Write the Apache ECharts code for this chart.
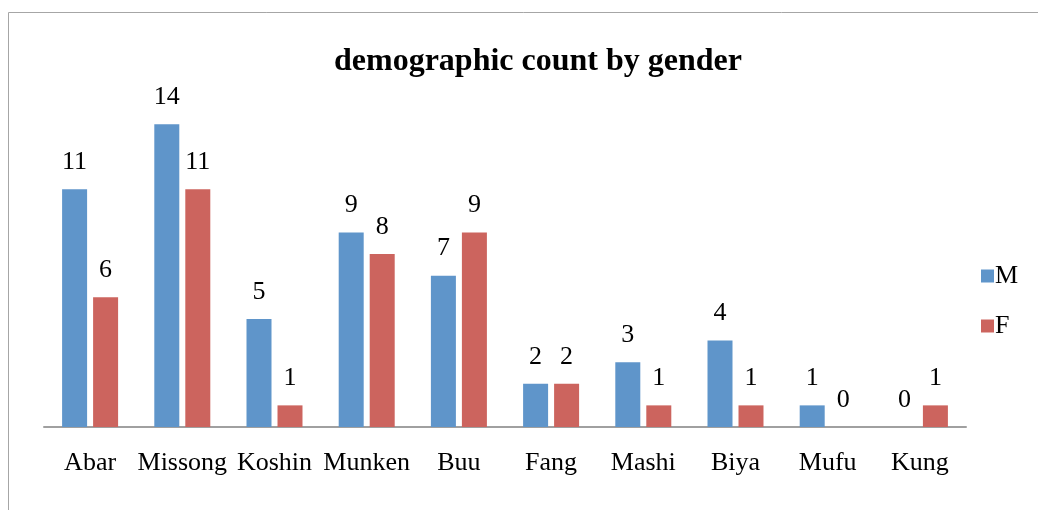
<!DOCTYPE html>
<html>
<head>
<meta charset="utf-8">
<script src="https://cdn.jsdelivr.net/npm/echarts@6/dist/echarts.min.js"></script>
<style>
  html, body { margin: 0; padding: 0; background: #fff; }
  #chart { width: 1038px; height: 510px; }
</style>
</head>
<body>
<div id="chart"></div>
<script>
// 数据
const categories = ['Abar', 'Missong', 'Koshin', 'Munken', 'Buu', 'Fang', 'Mashi', 'Biya', 'Mufu', 'Kung'];
const maleCounts = [11, 14, 5, 9, 7, 2, 3, 4, 1, 0];
const femaleCounts = [6, 11, 1, 8, 9, 2, 1, 1, 0, 1];

const serif = '"Liberation Serif", "DejaVu Serif", serif';

const chart = echarts.init(document.getElementById('chart'));

const labelStyle = {
    show: true,
    position: 'top',
    distance: 14,
    fontFamily: serif,
    fontSize: 26,
    color: '#000'
};

chart.setOption({
    animation: false,
    title: {
        text: 'demographic count by gender',
        left: 329,
        top: 41,
        textStyle: {
            fontFamily: serif,
            fontWeight: 'bold',
            fontSize: 32,
            color: '#000'
        }
    },
    legend: {
        orient: 'vertical',
        left: 976,
        top: 258,
        itemWidth: 13,
        itemHeight: 13,
        itemGap: 24,
        icon: 'rect',
        itemStyle: { borderWidth: 0 },
        textStyle: { fontFamily: serif, fontSize: 26, color: '#000', padding: [0, 0, 0, -4] },
        data: ['M', 'F']
    },
    grid: { left: 44, right: 72, top: 81, bottom: 83 },
    xAxis: {
        type: 'category',
        data: categories,
        axisLine: { lineStyle: { color: '#a0a0a0', width: 2 } },
        axisTick: { show: false },
        axisLabel: { interval: 0, fontFamily: serif, fontSize: 26, color: '#000', margin: 23 }
    },
    yAxis: {
        type: 'value',
        min: 0,
        max: 16,
        show: false
    },
    series: [
        {
            name: 'M',
            type: 'bar',
            data: maleCounts,
            barWidth: 25,
            barGap: '24%',
            itemStyle: { color: '#5f95ca' },
            label: labelStyle
        },
        {
            name: 'F',
            type: 'bar',
            data: femaleCounts,
            barWidth: 25,
            itemStyle: { color: '#cc645e' },
            label: labelStyle
        }
    ],
    graphic: [{
        type: 'rect',
        shape: { x: 8.5, y: 12.5, width: 1200, height: 700 },
        style: { fill: 'none', stroke: '#a6a6a6', lineWidth: 1 },
        silent: true
    }]
});
</script>
</body>
</html>
